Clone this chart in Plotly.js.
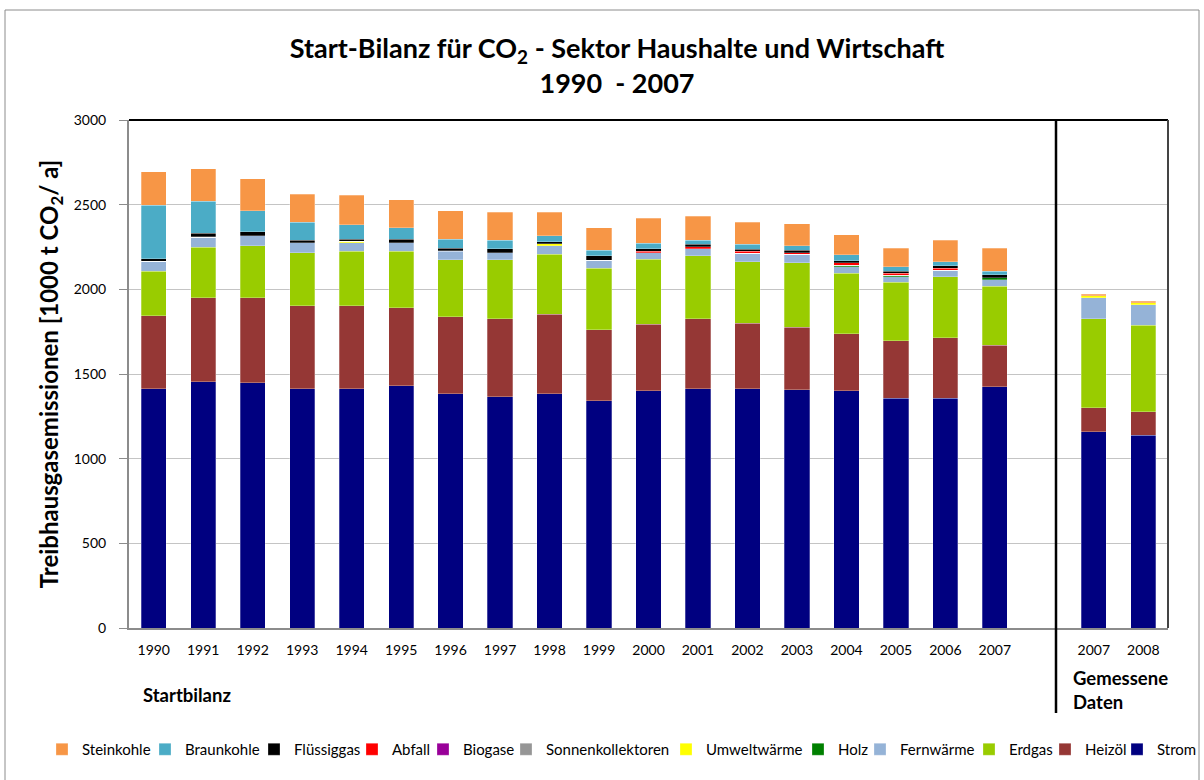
<!DOCTYPE html>
<html>
<head>
<meta charset="utf-8">
<script src="https://cdn.plot.ly/plotly-3.0.1.min.js"></script>
<style>html,body{margin:0;padding:0;background:#fff;}#chart{width:1204px;height:780px;}</style>
</head>
<body>
<div id="chart"></div>
<script>
// Categories
const startYears = ['1990','1991','1992','1993','1994','1995','1996','1997','1998','1999','2000','2001','2002','2003','2004','2005','2006','2007'];
const measuredYears = ['2007','2008'];

// Series values (1000 t CO2 / a): 18 Startbilanz years, then 2 measured years
const strom          = [1413,1455,1449,1413,1413,1431,1384,1366,1384,1343,1400,1413,1413,1407,1400,1358,1358,1425, 1160,1138];
const heizoel        = [431,496,502,491,491,461,453,461,470,419,395,412,388,370,338,339,355,246, 141,140];
const erdgas         = [264,297,307,311,321,333,338,348,353,362,382,374,362,381,357,346,362,347, 526,510];
const fernwaerme     = [59,59,57,59,51,49,50,40,51,49,40,41,50,49,39,32,39,40, 124,122];
const holz           = [0,0,0,0,0,0,3,0,0,0,0,0,0,0,8,8,0,9, 0,0];
const umweltwaerme   = [0,0,0,0,7,0,0,0,10,0,0,0,0,0,0,0,0,0, 12,11];
const sonnenkoll     = [0,0,0,0,0,0,0,0,0,0,0,0,0,0,0,0,0,0, 0,0];
const biogase        = [0,0,0,0,0,0,0,0,0,0,0,0,0,0,0,0,0,0, 0,0];
const abfall         = [0,5,0,0,0,0,0,0,0,0,9,12,11,10,16,12,10,0, 0,0];
const fluessiggas    = [14,19,26,15,14,23,14,25,12,26,14,14,14,15,11,13,16,18, 0,0];
const braunkohle     = [315,189,122,107,85,67,55,49,35,33,32,25,28,24,34,24,23,23, 0,0];
const steinkohle     = [197,191,191,167,173,166,166,166,140,132,149,142,130,132,120,110,128,134, 8,8];

// stacking order bottom -> top
const seriesNames = ['Strom','Heizöl','Erdgas','Fernwärme','Holz','Umweltwärme','Sonnenkollektoren','Biogase','Abfall','Flüssiggas','Braunkohle','Steinkohle'];
const seriesValues = [strom,heizoel,erdgas,fernwaerme,holz,umweltwaerme,sonnenkoll,biogase,abfall,fluessiggas,braunkohle,steinkohle];
const seriesColors = ['#000080','#953735','#99CC00','#95B3D7','#008000','#FFFF00','#969696','#990099','#FF0000','#000000','#4BACC6','#F79646'];

// legend: text start (px) of each entry, left to right = Steinkohle ... Strom
const legendTextPx = [80,183,292,390,461,544,704,836,898,1007,1083,1155];

// category keys: Startbilanz years, an empty gap slot, measured years
const xKeys = startYears.map(y => 'S' + y).concat(['gap']).concat(measuredYears.map(y => 'M' + y));
const xLabels = startYears.concat(['']).concat(measuredYears);

const FONT = 'Lato, "Liberation Sans", Arial, sans-serif';

const L = 129, R = 1168, T = 120, B = 628;
const px2x = p => (p - L) / (R - L);
const px2y = p => (B - p) / (B - T);

const n = seriesNames.length;
const legendKey = i => (i === 0 ? 'legend' : 'legend' + (i + 1));

const traces = seriesNames.map((name, i) => {
  const v = seriesValues[i];
  const y = v.slice(0, startYears.length).concat([null]).concat(v.slice(startYears.length));
  const legendIdx = n - 1 - i; // Steinkohle first
  return {
    type: 'bar',
    name: name,
    x: xKeys,
    y: y,
    legend: legendKey(legendIdx),
    marker: {color: seriesColors[i], line: {width: 0.6, color: 'rgba(255,255,255,0.45)'}},
    hoverinfo: 'name+y'
  };
});

const layout = {
  width: 1204, height: 780,
  margin: {l: L, r: 1204 - R, t: T, b: 780 - B, autoexpand: false},
  paper_bgcolor: '#fff', plot_bgcolor: '#fff',
  barmode: 'stack',
  bargap: 0.49,
  font: {family: FONT, color: '#000', size: 14},
  title: {
    text: '<b>Start-Bilanz für CO<sub>2</sub> - Sektor Haushalte und Wirtschaft</b><br><b>1990  - 2007</b>',
    font: {family: FONT, size: 27, color: '#000'},
    x: px2x(617), xref: 'paper', xanchor: 'center',
    y: 1 - 58 / 780, yref: 'container', yanchor: 'top'
  },
  xaxis: {
    type: 'category',
    categoryorder: 'array', categoryarray: xKeys,
    tickvals: xKeys, ticktext: xLabels,
    range: [-0.5, xKeys.length - 0.5],
    showline: true, linecolor: '#8c8c8c', linewidth: 2,
    ticks: '', showgrid: false, zeroline: false,
    tickfont: {family: FONT, size: 14, color: '#000'},
    ticklabelstandoff: 8,
    automargin: false
  },
  yaxis: {
    range: [0, 3000], dtick: 500, tick0: 0,
    showline: true, linecolor: '#8c8c8c', linewidth: 2,
    ticks: 'outside', ticklen: 8, tickcolor: '#8c8c8c',
    showgrid: true, gridcolor: '#c4c4c4', gridwidth: 1,
    zeroline: false,
    tickfont: {family: FONT, size: 14, color: '#000'},
    ticklabelstandoff: 10,
    title: {text: '<b>Treibhausgasemissionen [1000 t CO<sub>2</sub>/ a]</b>', font: {family: FONT, size: 24, color: '#000'}, standoff: 8},
    automargin: false
  },
  showlegend: true,
  annotations: [
    {text: '<b>Startbilanz</b>', xref: 'paper', yref: 'paper', x: px2x(187), y: px2y(695), xanchor: 'center', yanchor: 'middle', showarrow: false, font: {family: FONT, size: 18.5, color: '#000'}},
    {text: '<b>Gemessene</b><br><b>Daten</b>', xref: 'paper', yref: 'paper', x: px2x(1071), y: px2y(690), xanchor: 'left', yanchor: 'middle', align: 'left', showarrow: false, font: {family: FONT, size: 18.5, color: '#000'}}
  ],
  shapes: [
    // plot area top border (black) and right border
    {type: 'line', xref: 'paper', yref: 'paper', x0: 0, x1: 1, y0: 1, y1: 1, line: {color: '#000', width: 2}},
    {type: 'line', xref: 'paper', yref: 'paper', x0: 1, x1: 1, y0: 0, y1: 1, line: {color: '#444', width: 2}},
    // divider between Startbilanz and measured data
    {type: 'line', xref: 'paper', yref: 'paper', x0: px2x(1056), x1: px2x(1056), y0: px2y(713), y1: 1, line: {color: '#000', width: 2.5}},
    // outer chart border
    {type: 'rect', xref: 'paper', yref: 'paper', x0: px2x(5), x1: px2x(1199), y0: px2y(790), y1: px2y(10), line: {color: '#8c8c8c', width: 1}}
  ]
};

// one small legend per entry so the entries sit where the reference puts them
legendTextPx.forEach((tx, k) => {
  layout[legendKey(k)] = {
    orientation: 'h',
    x: px2x(tx - 38), xanchor: 'left',
    y: px2y(733), yanchor: 'top',
    font: {family: FONT, size: 15, color: '#000'},
    bgcolor: 'rgba(0,0,0,0)', borderwidth: 0
  };
});

Plotly.newPlot('chart', traces, layout, {displayModeBar: false, staticPlot: true});
</script>
</body>
</html>
